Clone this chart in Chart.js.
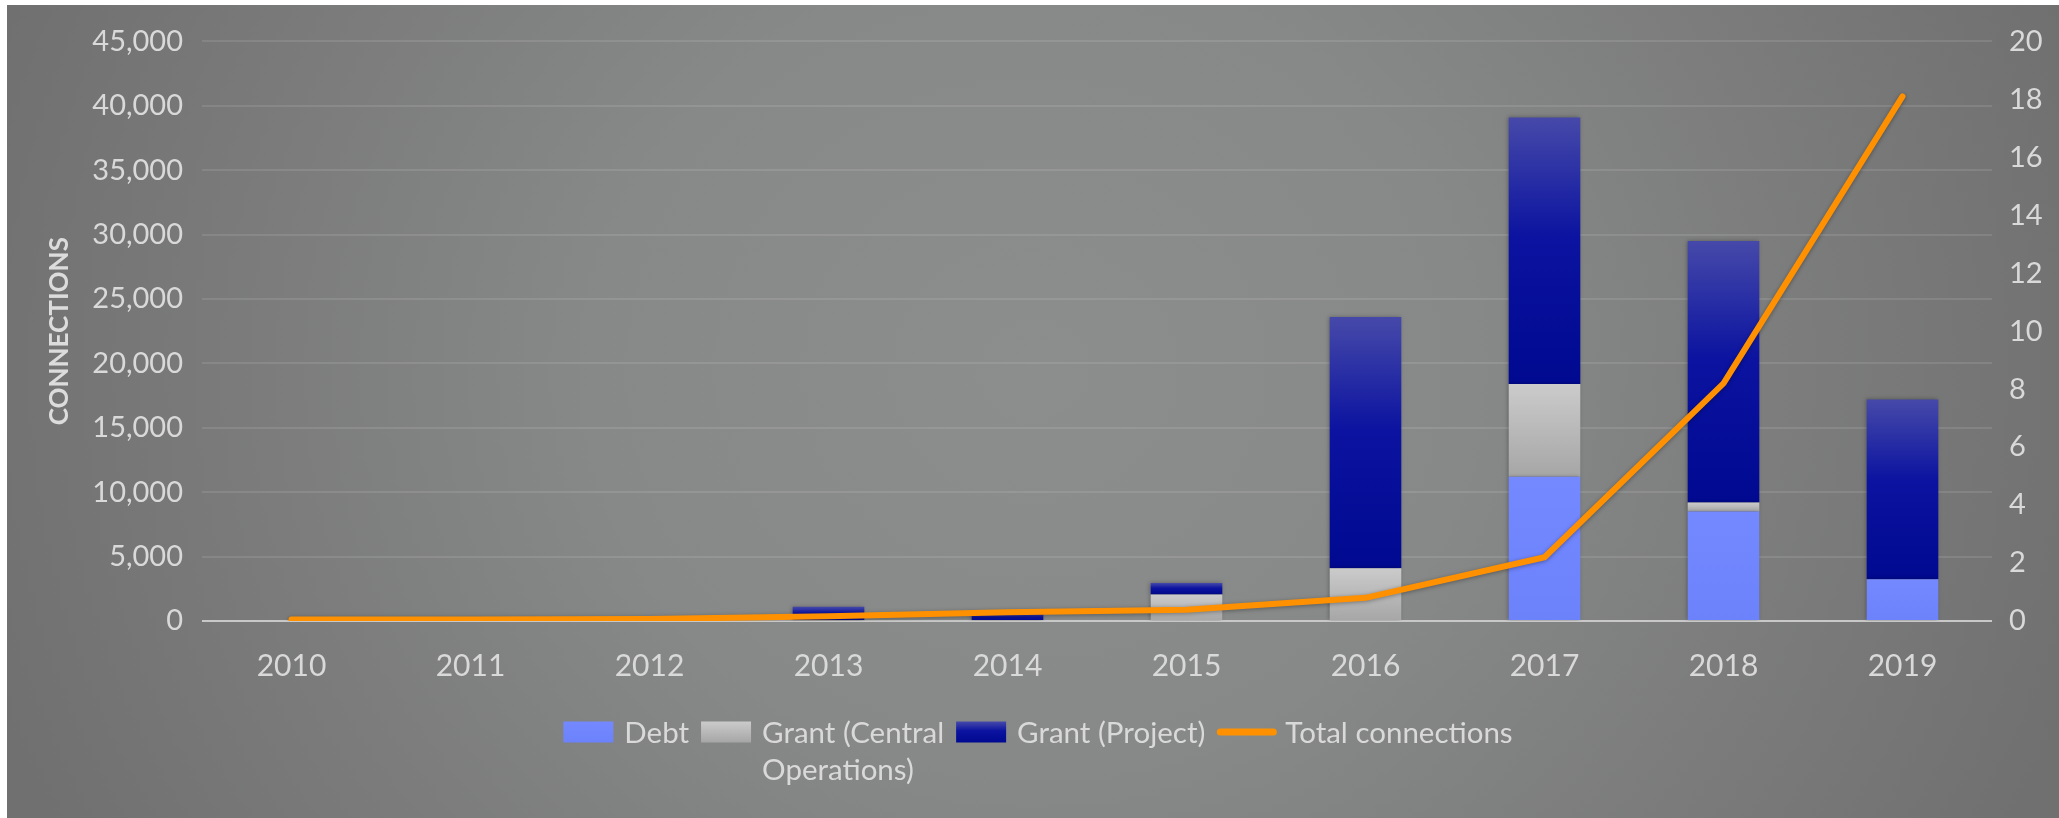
<!DOCTYPE html>
<html>
<head>
<meta charset="utf-8">
<script src="https://cdn.jsdelivr.net/npm/chart.js@4.4.1/dist/chart.umd.min.js"></script>
<style>
  html, body { margin: 0; padding: 0; background: #ffffff; }
  #wrap {
    position: absolute;
    left: 7px;
    top: 5px;
    width: 2052px;
    height: 813px;
    background: radial-gradient(ellipse 1100px 1000px at 50% 45%, #8c8e8d 0%, #878988 40%, #6f706f 100%);
  }
</style>
</head>
<body>
<div id="wrap"><canvas id="connChart"></canvas></div>
<script>
// Connections per year, by funding source (left axis) and total (right axis)
const years = ['2010', '2011', '2012', '2013', '2014', '2015', '2016', '2017', '2018', '2019'];
const debt = [0, 0, 0, 0, 0, 0, 0, 11200, 8500, 3250];
const grantCentral = [0, 0, 0, 0, 0, 2050, 4100, 7200, 700, 0];
const grantProject = [0, 0, 0, 1100, 550, 900, 19500, 20700, 20300, 13950];
const totalConnections = [0.05, 0.05, 0.07, 0.16, 0.3, 0.39, 0.8, 2.2, 8.2, 18.1];

const seriesLabels = ['Debt', 'Grant (Central Operations)', 'Grant (Project)', 'Total connections'];
const leftMax = 45000, leftStep = 5000;
const rightMax = 20, rightStep = 2;

const textColor = '#d9d9d9';
const fontFamily = 'Lato, "Open Sans", sans-serif';

// vertical gradient stops for each bar segment
const debtStops = [[0, '#7489ff'], [1, '#6c82fb']];
const centralStops = [[0, '#cbcbcb'], [1, '#a6a6a6']];
const projectStops = [[0, '#4649a9'], [0.45, '#0b13a0'], [1, '#000990']];
const barStops = [debtStops, centralStops, projectStops];

function segmentFill(stops) {
    return function (ctx) {
        const chart = ctx.chart;
        const y = chart.scales.y;
        if (ctx.type !== 'data' || !y || !chart.chartArea) return stops[stops.length - 1][1];
        const i = ctx.dataIndex;
        let base = 0;
        for (let d = 0; d < ctx.datasetIndex; d++) base += chart.data.datasets[d].data[i] || 0;
        const top = base + (ctx.raw || 0);
        const y0 = y.getPixelForValue(top);
        const y1 = y.getPixelForValue(base);
        if (!isFinite(y0) || y1 - y0 < 1) return stops[stops.length - 1][1];
        const g = chart.ctx.createLinearGradient(0, y0, 0, y1);
        stops.forEach(s => g.addColorStop(s[0], s[1]));
        return g;
    };
}

// soft shadow under bars and the line
const markShadow = {
    id: 'markShadow',
    beforeDatasetDraw(chart, args) {
        const ctx = chart.ctx;
        ctx.save();
        if (args.meta.type === 'line') {
            ctx.shadowColor = 'rgba(0, 0, 0, 0.35)';
            ctx.shadowBlur = 4;
            ctx.shadowOffsetY = 1;
        } else {
            ctx.shadowColor = 'rgba(0, 0, 0, 0.3)';
            ctx.shadowBlur = 4;
            ctx.shadowOffsetX = -1;
        }
    },
    afterDatasetDraw(chart) {
        chart.ctx.restore();
    }
};

function wrapLabel(ctx, text, maxW) {
    const words = text.split(' ');
    const lines = [];
    let cur = '';
    for (const w of words) {
        const t = cur ? cur + ' ' + w : w;
        if (cur && ctx.measureText(t).width > maxW) {
            lines.push(cur);
            cur = w;
        } else {
            cur = t;
        }
    }
    lines.push(cur);
    return lines;
}

// legend under the x axis, long labels wrap onto a second line
const legendBelow = {
    id: 'legendBelow',
    afterDraw(chart, args, opts) {
        const ctx = chart.ctx;
        ctx.save();
        ctx.font = opts.fontSize + 'px ' + fontFamily;
        ctx.textBaseline = 'middle';
        ctx.fillStyle = textColor;

        const items = chart.data.datasets.map((ds, i) => {
            const lines = wrapLabel(ctx, ds.label, opts.maxTextWidth);
            const textW = Math.max(...lines.map(l => ctx.measureText(l).width));
            const isLine = ds.type === 'line';
            const markW = isLine ? opts.lineW : opts.boxW;
            const gap = isLine ? opts.lineGap : opts.boxGap;
            return { ds, i, lines, textW, isLine, markW, gap, width: markW + gap + textW };
        });
        const total = items.reduce((s, it) => s + it.width, 0) + opts.itemGap * (items.length - 1);
        let x = opts.centerX - total / 2;
        const y = opts.y;

        items.forEach(it => {
            if (it.isLine) {
                ctx.strokeStyle = it.ds.borderColor;
                ctx.lineWidth = 7;
                ctx.lineCap = 'round';
                ctx.beginPath();
                ctx.moveTo(x + 3, y - 1);
                ctx.lineTo(x + it.markW - 3, y - 1);
                ctx.stroke();
            } else {
                const top = y - opts.boxH / 2 - 1;
                const g = ctx.createLinearGradient(0, top, 0, top + opts.boxH);
                barStops[it.i].forEach(s => g.addColorStop(s[0], s[1]));
                ctx.fillStyle = g;
                ctx.fillRect(x, top, it.markW, opts.boxH);
            }
            ctx.fillStyle = textColor;
            it.lines.forEach((l, k) => {
                ctx.fillText(l, x + it.markW + it.gap, y + k * opts.lineHeight);
            });
            x += it.width + opts.itemGap;
        });
        ctx.restore();
    }
};

new Chart(document.getElementById('connChart'), {
    data: {
        labels: years,
        datasets: [
            { type: 'bar', label: seriesLabels[0], data: debt, backgroundColor: segmentFill(debtStops), yAxisID: 'y', order: 1 },
            { type: 'bar', label: seriesLabels[1], data: grantCentral, backgroundColor: segmentFill(centralStops), yAxisID: 'y', order: 1 },
            { type: 'bar', label: seriesLabels[2], data: grantProject, backgroundColor: segmentFill(projectStops), yAxisID: 'y', order: 1 },
            {
                type: 'line', label: seriesLabels[3], data: totalConnections, yAxisID: 'y1', order: 0,
                borderColor: '#ff9100', borderWidth: 6, pointRadius: 0, tension: 0,
                borderCapStyle: 'round', borderJoinStyle: 'round'
            }
        ]
    },
    options: {
        responsive: true,
        maintainAspectRatio: false,
        animation: false,
        datasets: {
            bar: { barPercentage: 0.4, categoryPercentage: 1 }
        },
        layout: { autoPadding: false, padding: { top: 33, left: 0, right: 0, bottom: 117 } },
        plugins: {
            legend: { display: false },
            tooltip: { enabled: false },
            legendBelow: {
                centerX: 1031, y: 728, fontSize: 29.5, lineHeight: 37,
                boxW: 50, boxH: 21, boxGap: 11, lineW: 59, lineGap: 9,
                itemGap: 12, maxTextWidth: 250
            }
        },
        scales: {
            x: {
                stacked: true,
                grid: { display: false, drawTicks: false },
                border: { display: false },
                ticks: { color: textColor, font: { family: fontFamily, size: 30 }, padding: 27 },
                afterFit(s) { s.height = 80; }
            },
            y: {
                stacked: true,
                position: 'left',
                min: 0,
                max: leftMax,
                ticks: {
                    stepSize: leftStep,
                    color: textColor,
                    font: { family: fontFamily, size: 29 },
                    padding: 19,
                    callback: v => v.toLocaleString('en-US')
                },
                grid: {
                    color: c => c.tick && c.tick.value === 0 ? '#c8c8c8' : 'rgba(255, 255, 255, 0.1)',
                    lineWidth: 2,
                    drawTicks: false
                },
                border: { display: false },
                title: {
                    display: true,
                    text: 'CONNECTIONS',
                    color: '#dcdcdc',
                    font: { family: fontFamily, size: 26, weight: 'bold' },
                    padding: { top: 37, bottom: 0 }
                },
                afterFit(s) { s.width = 195; }
            },
            y1: {
                position: 'right',
                min: 0,
                max: rightMax,
                ticks: {
                    stepSize: rightStep,
                    color: textColor,
                    font: { family: fontFamily, size: 29 },
                    padding: 17
                },
                grid: { display: false, drawTicks: false },
                border: { display: false },
                afterFit(s) { s.width = 67; }
            }
        }
    },
    plugins: [markShadow, legendBelow]
});
</script>
</body>
</html>
